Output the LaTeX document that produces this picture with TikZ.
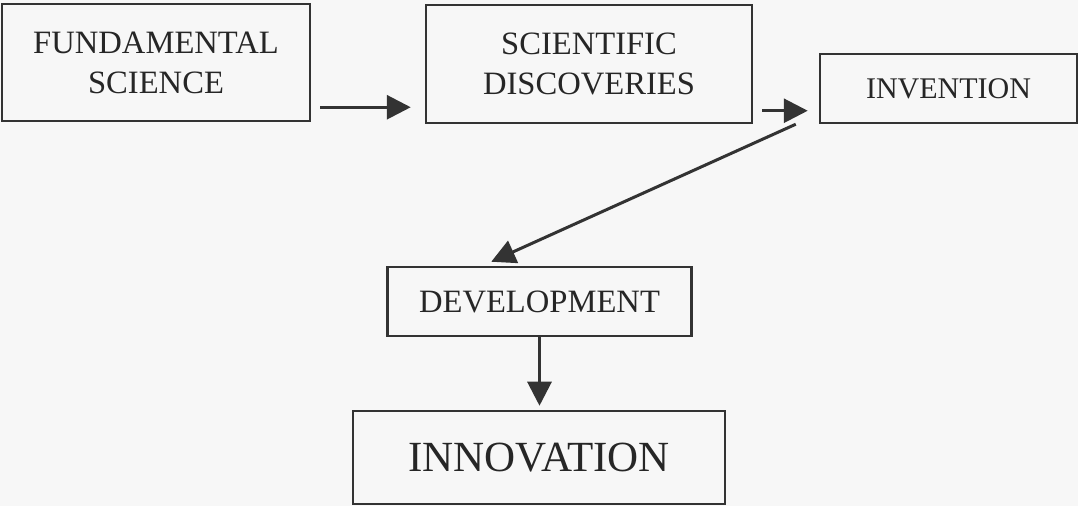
\documentclass[tikz,border=0pt]{standalone}
\usepackage{fontspec}
\setmainfont{Liberation Serif}
\usetikzlibrary{arrows.meta,positioning}
\definecolor{ink}{HTML}{333333}
\definecolor{paper}{HTML}{F7F7F7}

\begin{document}
\begin{tikzpicture}[x=0.5pt,y=-0.5pt,
    box/.style={draw=ink,line width=1.25pt,align=center,text=black!85,inner sep=0pt,
      font=\fontsize{16.3}{20}\selectfont},
    arr/.style={draw=ink,line width=1.5pt,-{Triangle[length=12pt,width=12pt]}}]
  \fill[paper] (0,0) rectangle (1078,506);
  \useasboundingbox (0,0) rectangle (1078,506);

  % top row
  \node (fund) [box,minimum width=154pt,minimum height=58.5pt] at (156,62.5) {FUNDAMENTAL\\SCIENCE};
  \node (disc) [box,minimum width=163pt,minimum height=59pt] at (589,64) {SCIENTIFIC\\DISCOVERIES};
  \node (inv) [box,minimum width=128.5pt,minimum height=34.5pt,font=\fontsize{15}{18}\selectfont] at (948.5,88.5) {INVENTION};

  % lower column
  \node (dev) [box,minimum width=152pt,minimum height=34.5pt] at (539.5,301.5) {DEVELOPMENT};
  \node (innov) [box,minimum width=186pt,minimum height=46.5pt,font=\fontsize{21.5}{26}\selectfont] at (539,457.5) {INNOVATION};

  \draw[arr] ([xshift=4.5pt,yshift=7.5pt]fund.south east) coordinate (a1) -- ([xshift=-7pt]disc.west |- a1);
  \draw[arr] ([xshift=4.5pt,yshift=6.75pt]disc.south east) coordinate (a2) -- ([xshift=-5.5pt]inv.west |- a2);
  \draw[arr] ([xshift=-11.5pt]inv.south west) -- ([xshift=52.5pt,yshift=2pt]dev.north west);
  \draw[arr,shorten >=2pt] (dev.south) -- (dev.south |- innov.north);
\end{tikzpicture}
\end{document}
